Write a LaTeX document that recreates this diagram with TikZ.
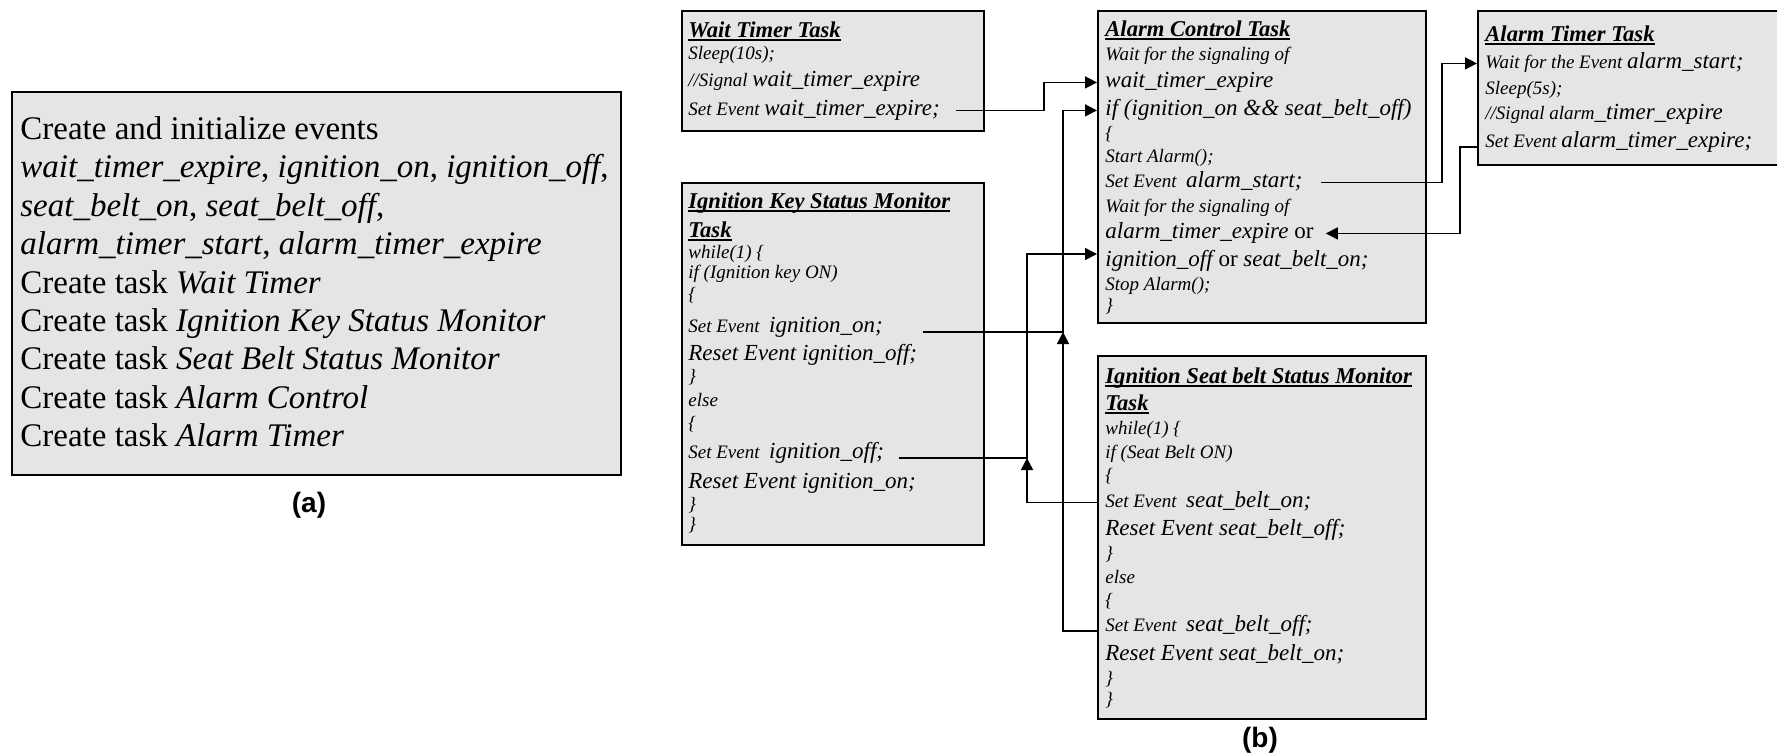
\documentclass[tikz,border=0pt]{standalone}
\usepackage{fontspec}
\setmainfont{Liberation Serif}
\setsansfont{Liberation Sans}
\usetikzlibrary{arrows.meta}

% event names are set larger than the rest of a line
\newcommand{\evt}[1]{{\fontsize{11.5}{13}\selectfont #1}}
% task titles, underlined through the descenders
\newcommand{\ttl}[1]{\setbox0=\hbox{#1}\rlap{\rule[-1.8pt]{\wd0}{0.9pt}}\box0}

\begin{document}
\begin{tikzpicture}[x=0.5pt,y=-0.5pt,>={Triangle[length=6pt,width=6pt]}]
  \tikzstyle{task}=[draw=black,line width=1pt,fill=black!10,inner sep=0pt,anchor=north west]
  \tikzstyle{code}=[anchor=base west,inner sep=0pt,font=\fontsize{9.5}{11}\selectfont\itshape]
  \tikzstyle{title}=[code,font=\fontsize{11.3}{13}\selectfont\bfseries\itshape]
  \tikzstyle{init}=[anchor=base west,inner sep=0pt,font=\fontsize{16.5}{19}\selectfont]
  \tikzstyle{sub}=[font=\sffamily\bfseries\fontsize{14}{16}\selectfont]
  \tikzstyle{wire}=[line width=0.75pt]

  \useasboundingbox (0,0) rectangle (1777,752);

  % (a)
  \node [task,minimum width=304.5pt,minimum height=191.5pt] (ini) at (11,91) {};
  \node [init] (i1) at (20,139) {Create and initialize events};
  \node [init] (i2) at (20,177) {\textit{wait\_timer\_expire}, \textit{ignition\_on}, \textit{ignition\_off},};
  \node [init] (i3) at (20,216) {\textit{seat\_belt\_on}, \textit{seat\_belt\_off},};
  \node [init] (i4) at (20,254) {\textit{alarm\_timer\_start}, \textit{alarm\_timer\_expire}};
  \node [init] (i5) at (20,293) {Create task \textit{Wait Timer}};
  \node [init] (i6) at (20,331) {Create task \textit{Ignition Key Status Monitor}};
  \node [init] (i7) at (20,369) {Create task \textit{Seat Belt Status Monitor}};
  \node [init] (i8) at (20,408) {Create task \textit{Alarm Control}};
  \node [init] (i9) at (20,446) {Create task \textit{Alarm Timer}};
  \node [sub] (la) at (309,505) {(a)};

  % (b) wait timer
  \node [task,minimum width=151pt,minimum height=60pt] (wt) at (681,10) {};
  \node [title] (wt1) at (688,37) {\ttl{Wait Timer Task}};
  \node [code] (wt2) at (688,59) {Sleep(10s);};
  \node [code] (wt3) at (688,86) {//Signal \evt{wait\_timer\_expire}};
  \node [code] (wt4) at (688,115) {Set Event \evt{wait\_timer\_expire;}};

  % ignition key monitor
  \node [task,minimum width=151pt,minimum height=181pt] (ik) at (681,182) {};
  \node [title] (ik1) at (688,208) {\ttl{Ignition Key Status Monitor}};
  \node [title] (ik2) at (688,237) {\ttl{Task}};
  \node [code] (ik3) at (688,258) {while(1) \{};
  \node [code] (ik4) at (688,278) {if (Ignition key ON)};
  \node [code] (ik5) at (688,300) {\{};
  \node [code] (ik6) at (688,332) {Set Event\ \ \evt{ignition\_on;}};
  \node [code] (ik7) at (688,360) {\evt{Reset Event ignition\_off;}};
  \node [code] (ik8) at (688,382) {\}};
  \node [code] (ik9) at (688,406) {else};
  \node [code] (ik10) at (688,429) {\{};
  \node [code] (ik11) at (688,458) {Set Event\ \ \evt{ignition\_off;}};
  \node [code] (ik12) at (688,488) {\evt{Reset Event ignition\_on;}};
  \node [code] (ik13) at (688,510) {\}};
  \node [code] (ik14) at (688,530) {\}};

  % alarm control
  \node [task,minimum width=164pt,minimum height=156pt] (ac) at (1097,10) {};
  \node [title] (ac1) at (1105,36) {\ttl{Alarm Control Task}};
  \node [code] (ac2) at (1105,60) {Wait for the signaling of};
  \node [code] (ac3) at (1105,87) {\evt{wait\_timer\_expire}};
  \node [code] (ac4) at (1105,115) {\evt{if (ignition\_on \&\& seat\_belt\_off)}};
  \node [code] (ac5) at (1105,139) {\{};
  \node [code] (ac6) at (1105,162) {Start Alarm();};
  \node [code] (ac7) at (1105,187) {Set Event\ \ \evt{alarm\_start;}};
  \node [code] (ac8) at (1105,212) {Wait for the signaling of};
  \node [code] (ac9) at (1105,238) {\evt{alarm\_timer\_expire {\upshape or}}};
  \node [code] (ac10) at (1105,266) {\evt{ignition\_off {\upshape or} seat\_belt\_on;}};
  \node [code] (ac11) at (1105,290) {Stop Alarm();};
  \node [code] (ac12) at (1105,311) {\}};

  % alarm timer
  \node [task,minimum width=165pt,minimum height=77pt] (atm) at (1477,10) {};
  \node [title] (atm1) at (1485,41) {\ttl{Alarm Timer Task}};
  \node [code] (atm2) at (1485,68) {Wait for the Event \evt{alarm\_start;}};
  \node [code] (atm3) at (1485,94) {Sleep(5s);};
  \node [code] (atm4) at (1485,119) {//Signal alarm\evt{\_timer\_expire}};
  \node [code] (atm5) at (1485,147) {Set Event \evt{alarm\_timer\_expire;}};

  % seat belt monitor
  \node [task,minimum width=164pt,minimum height=181.5pt] (sb) at (1097,355) {};
  \node [title] (sb1) at (1105,383) {\ttl{Ignition Seat belt Status Monitor}};
  \node [title] (sb2) at (1105,410) {\ttl{Task}};
  \node [code] (sb3) at (1105,434) {while(1) \{};
  \node [code] (sb4) at (1105,458) {if (Seat Belt ON)};
  \node [code] (sb5) at (1105,481) {\{};
  \node [code] (sb6) at (1105,507) {Set Event\ \ \evt{seat\_belt\_on;}};
  \node [code] (sb7) at (1105,535) {\evt{Reset Event seat\_belt\_off;}};
  \node [code] (sb8) at (1105,559) {\}};
  \node [code] (sb9) at (1105,583) {else};
  \node [code] (sb10) at (1105,606) {\{};
  \node [code] (sb11) at (1105,631) {Set Event\ \ \evt{seat\_belt\_off;}};
  \node [code] (sb12) at (1105,660) {\evt{Reset Event seat\_belt\_on;}};
  \node [code] (sb13) at (1105,684) {\}};
  \node [code] (sb14) at (1105,705) {\}};
  \node [sub] (lb) at (1260,740) {(b)};

  % bends of the wires
  \coordinate (j1) at (1044,0);
  \coordinate (j2) at (1063,0);
  \coordinate (j3) at (1027,0);
  \coordinate (j4) at (1442,0);
  \coordinate (j5) at (1460,0);
  \coordinate (ac10in) at ([yshift=6pt]ac10.base west);

\draw [wire,->] ([xshift=8pt]wt4.mid east) -| (j1 |- ac3.mid) -- (ac.west |- ac3.mid);
\draw [wire,->] ([xshift=20pt]ik6.base east) -| (j2 |- ac4.mid) -- (ac.west |- ac4.mid);
\draw [wire,->] (sb.west |- sb11.base) -| (j2 |- ik6.base);
\draw [wire,->] ([xshift=7pt]ik11.base east) -| (j3 |- ac10in) -- (ac.west |- ac10in);
\draw [wire,->] (sb.west |- sb6.mid) -| (j3 |- ik11.base);
\draw [wire,->] ([xshift=9pt]ac7.mid east) -| (j4 |- atm2.mid) -- (atm.west |- atm2.mid);
\draw [wire,->] (atm.west |- atm5.base) -| (j5 |- ac9.mid) -- ([xshift=6pt]ac9.mid east);
\end{tikzpicture}
\end{document}
